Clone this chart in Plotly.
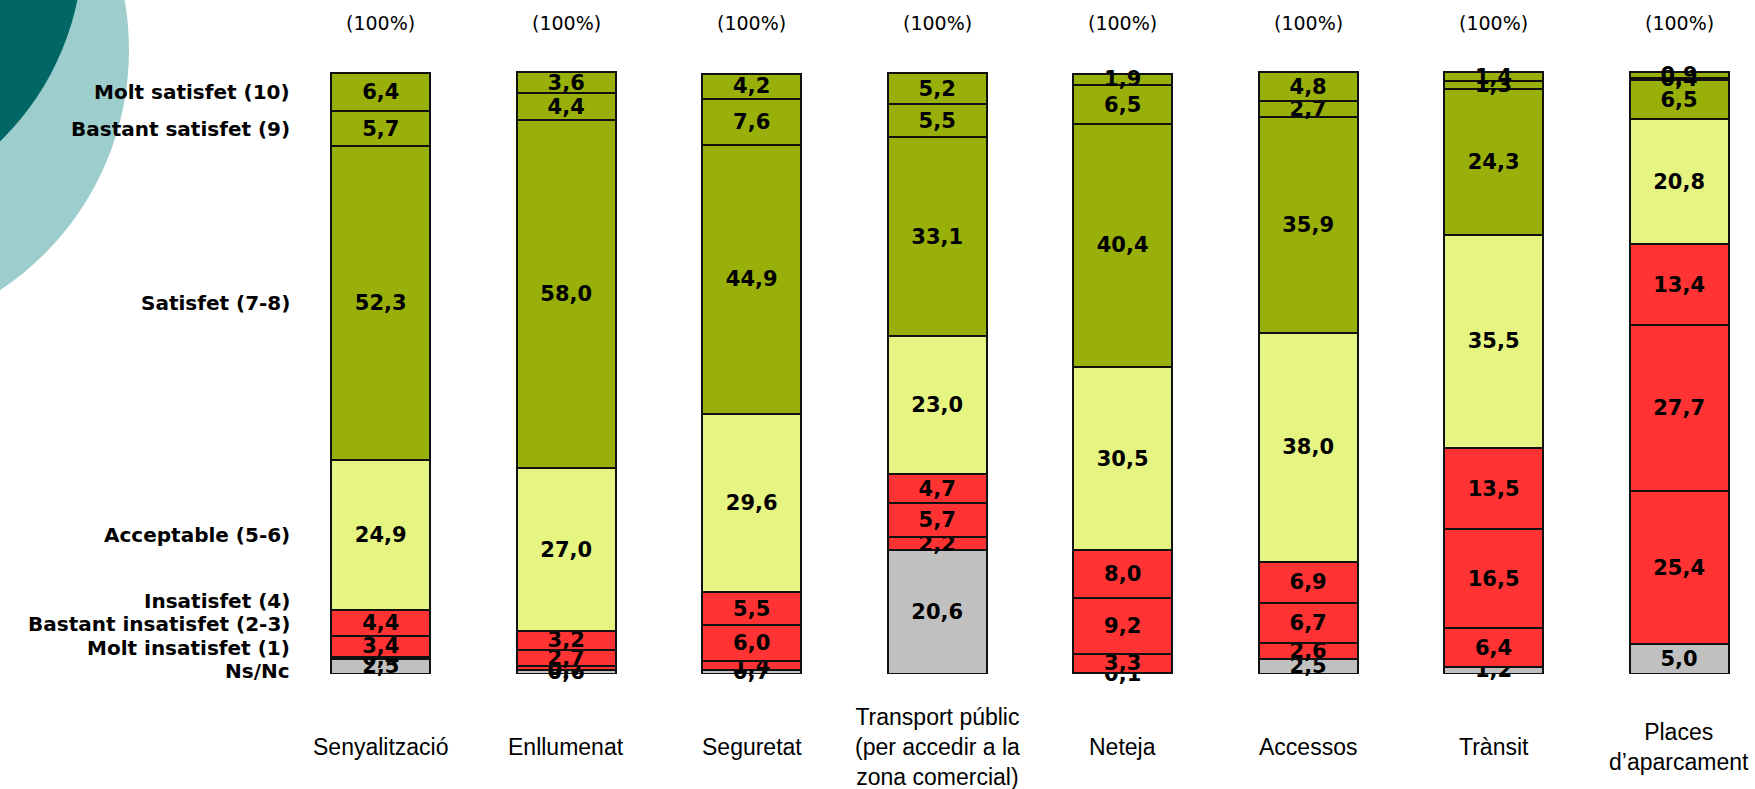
import plotly.graph_objects as go

categories = ["Senyalització", "Enllumenat", "Seguretat", "Transport públic",
              "Neteja", "Accessos", "Trànsit", "Places d'aparcament"]
category_labels = ["Senyalització", "Enllumenat", "Seguretat",
                   "Transport públic<br>(per accedir a la<br>zona comercial)",
                   "Neteja", "Accessos", "Trànsit", "Places<br>d’aparcament"]
totals_label = "(100%)"

series_names = ["Ns/Nc", "Molt insatisfet (1)", "Bastant insatisfet (2-3)", "Insatisfet (4)",
                "Acceptable (5-6)", "Satisfet (7-8)", "Bastant satisfet (9)", "Molt satisfet (10)"]

ns_nc         = [2.5, 0.6, 0.7, 20.6, 0.1, 2.5, 1.2, 5.0]
molt_insat    = [0.4, 0.7, 1.4, 2.2, 3.3, 2.6, 6.4, 25.4]
bastant_insat = [3.4, 2.7, 6.0, 5.7, 9.2, 6.7, 16.5, 27.7]
insat         = [4.4, 3.2, 5.5, 4.7, 8.0, 6.9, 13.5, 13.4]
acceptable    = [24.9, 27.0, 29.6, 23.0, 30.5, 38.0, 35.5, 20.8]
satisfet      = [52.3, 58.0, 44.9, 33.1, 40.4, 35.9, 24.3, 6.5]
bastant_sat   = [5.7, 4.4, 7.6, 5.5, 6.5, 2.7, 1.3, 0.4]
molt_sat      = [6.4, 3.6, 4.2, 5.2, 1.9, 4.8, 1.4, 0.9]

series_values = [ns_nc, molt_insat, bastant_insat, insat, acceptable, satisfet, bastant_sat, molt_sat]

GREY, RED, YELLOW, OLIVE = "#C0C0C0", "#FF3333", "#E6F582", "#99AF0A"
series_colors = [GREY, RED, RED, RED, YELLOW, OLIVE, OLIVE, OLIVE]

LABEL_FONT = "DejaVu Sans"
fig = go.Figure()

for name, vals, col in zip(series_names, series_values, series_colors):
    fig.add_trace(go.Bar(
        x=categories, y=vals, name=name,
        marker=dict(color=col, line=dict(color="#111111", width=2)),
        text=[f"{v:.1f}".replace(".", ",") for v in vals],
        textposition="inside", insidetextanchor="middle",
        constraintext="none", textangle=0, cliponaxis=False,
        textfont=dict(family=LABEL_FONT, size=21, color="black", weight="bold"),
        hoverinfo="skip",
    ))

# row labels placed next to the first bar's segments (spread to avoid overlap)
first = [s[0] for s in series_values]
mids = []
cum = 0.0
for v in first:
    mids.append(cum + v / 2)
    cum += v
pos = []
for m in mids:
    if pos and m < pos[-1] + 3.9:
        m = pos[-1] + 3.9
    pos.append(m)
for name, m, yv in zip(series_names, mids, pos):
    if m < 10:
        yv -= 0.8
    fig.add_annotation(x=0, xref="paper", xanchor="right", xshift=4,
                       y=yv, yref="y", yanchor="middle", text=name, showarrow=False,
                       font=dict(family=LABEL_FONT, size=20, color="black", weight="bold"))

for cat, lab in zip(categories, category_labels):
    fig.add_annotation(x=cat, xref="x", y=0, yref="y", yanchor="middle", yshift=-73,
                       text=lab, showarrow=False,
                       font=dict(family="Liberation Sans", size=23, color="black"))
    fig.add_annotation(x=cat, xref="x", y=100, yref="y", yanchor="middle", yshift=50,
                       text=totals_label, showarrow=False,
                       font=dict(family="DejaVu Sans", size=19, color="black"))

FW, FH = 1755, 789
L, T, W, H = 288, 70, 1456, 604

def px(xp):
    return (xp - L) / W

def py(yp):
    return (T + H - yp) / H

# decorative circles (top-left)
fig.add_shape(type="circle", xref="paper", yref="paper", layer="below",
              x0=px(-447), x1=px(129), y0=py(338), y1=py(-238),
              fillcolor="#9DCDCD", line=dict(width=0))
fig.add_shape(type="circle", xref="paper", yref="paper", layer="below",
              x0=px(-465), x1=px(83), y0=py(219), y1=py(-329),
              fillcolor="#006666", line=dict(width=0))

fig.update_layout(
    width=FW, height=FH, barmode="stack", bargap=0.466,
    margin=dict(l=L, r=FW - L - W, t=T, b=FH - T - H, pad=0),
    plot_bgcolor="white", paper_bgcolor="white", showlegend=False,
    uniformtext=dict(minsize=19, mode="show"),
    xaxis=dict(visible=False, range=[-0.5, 7.35]),
    yaxis=dict(visible=False, range=[0, 100.5]),
)

fig.write_html("out.html", config={"displayModeBar": False},
               post_script="document.body.style.margin='0px';")
